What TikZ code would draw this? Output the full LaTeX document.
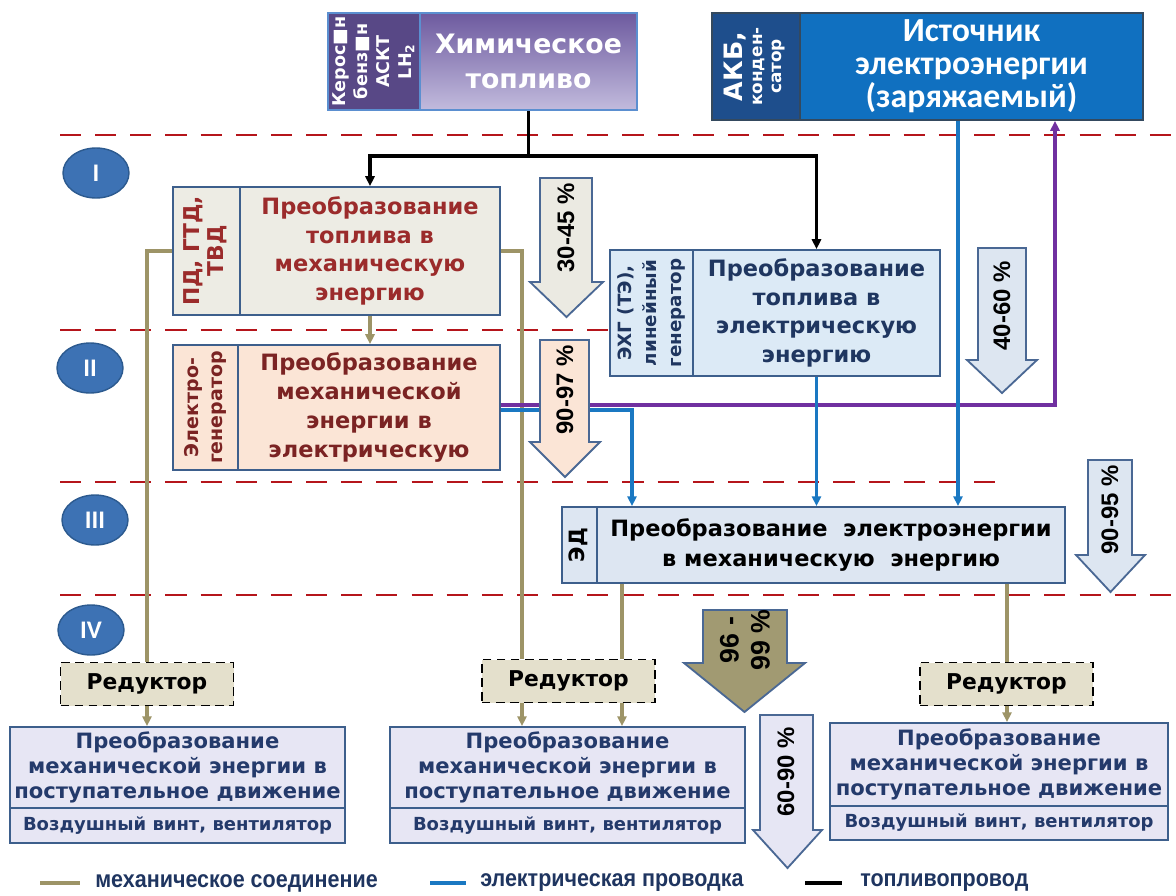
\documentclass[tikz,border=0pt]{standalone}
\usepackage{fontspec}
\setmainfont{DejaVu Sans}
\newfontfamily\calfont{Carlito}
\newfontfamily\arialfont{Liberation Sans}
\usetikzlibrary{arrows.meta,shapes.geometric}

\definecolor{boxline}{HTML}{3D5F8C}
\definecolor{pdfill}{HTML}{EDECE4}
\definecolor{pdtext}{HTML}{9B2B2B}
\definecolor{genfill}{HTML}{FBE5D6}
\definecolor{gentext}{HTML}{7B2323}
\definecolor{fcfill}{HTML}{DCEAF6}
\definecolor{fctext}{HTML}{1F3660}
\definecolor{edfill}{HTML}{DDE6F2}
\definecolor{propfill}{HTML}{E7E6F4}
\definecolor{proptext}{HTML}{243A6B}
\definecolor{redfill}{HTML}{E4E0CC}
\definecolor{fuelsidefill}{HTML}{584886}
\definecolor{fueltop}{HTML}{6D5A9F}
\definecolor{fuelbot}{HTML}{C2BBDD}
\definecolor{fuelline}{HTML}{5B8FD0}
\definecolor{accfill}{HTML}{1E4E8C}
\definecolor{srcfill}{HTML}{1070C0}
\definecolor{srcline}{HTML}{34495E}
\definecolor{stagefill}{HTML}{3D72B4}
\definecolor{stageline}{HTML}{2C5A8F}
\definecolor{levelred}{HTML}{B5151B}
\definecolor{mechcol}{HTML}{9D9467}
\definecolor{eleccol}{HTML}{1A78C2}
\definecolor{chargecol}{HTML}{7030A0}
\definecolor{arrowline}{HTML}{4A6894}
\definecolor{effgrey}{HTML}{EBEAE2}
\definecolor{effblue}{HTML}{DDE6F1}
\definecolor{effolive}{HTML}{A19A72}
\definecolor{efflilac}{HTML}{E6E6F4}
\definecolor{legtext}{HTML}{1F3560}

\newcommand{\px}{0.025cm}
\newcommand{\fs}[2]{\fontsize{#1}{#2}\selectfont}
\newcommand{\sidetext}[1]{\rotatebox{90}{\begin{tabular}{@{}c@{}}#1\end{tabular}}}
\newcommand{\narrow}[1]{\scalebox{0.9}[1]{#1}}

\begin{document}
\begin{tikzpicture}[x=0.025cm, y=-0.025cm,
  box/.style={draw=boxline, line width=1.3pt, inner sep=0pt, align=center},
  redbox/.style={draw=black, dash pattern=on 6pt off 4pt, line width=1.4pt, fill=redfill,
    inner sep=0pt, minimum width=173*\px, minimum height=43*\px, font=\bfseries\fs{15.5}{18}},
  stage/.style={ellipse, draw=stageline, line width=1pt, fill=stagefill, inner sep=0pt,
    minimum width=66*\px, minimum height=50*\px, text=white, font=\calfont\bfseries\fs{18}{20}},
  level/.style={draw=levelred, line width=1.8pt, dash pattern=on 15pt off 10pt},
  mech/.style={draw=mechcol, line width=2.4pt},
  elec/.style={draw=eleccol, line width=2.4pt},
  fuelp/.style={draw=black, line width=2.4pt},
  charge/.style={draw=chargecol, line width=2.4pt},
  arr/.style={-{Triangle[length=7pt,width=6.5pt]}},
  effarrow/.style={draw=arrowline, line width=1.3pt, line join=miter},
  efftext/.style={rotate=90, align=center, font=\arialfont\bfseries\fs{17}{22}},
  legend/.style={anchor=west, inner sep=0pt, text=legtext, font=\arialfont\bfseries\fs{17}{20}}]
  \useasboundingbox (0,0) rectangle (1176,895);

  % levels
  \draw[level] (60,135) -- (1176,135);
  \draw[level] (60,330) -- (612,330);
  \draw[level] (60,482) -- (1008,482);
  \draw[level] (60,595) -- (1176,595);
  \node[stage] (st1) at (96,173) {I};
  \node[stage] (st2) at (90,368) {II};
  \node[stage] (st3) at (95,520) {III};
  \node[stage] (st4) at (91,630) {IV};

  % sources
  \node[box, draw=fuelline, line width=1.5pt, fill=fuelsidefill, minimum width=92*\px, minimum height=97*\px,
    text=white, font=\bfseries\fs{12.5}{15.5}] (fuelside) at (374,61.5)
    {\sidetext{Керос■н\\бенз■н\\АСКТ\\LH\textsubscript{2}}};
  \node[box, draw=fuelline, line width=1.5pt, top color=fueltop, bottom color=fuelbot,
    minimum width=217*\px, minimum height=97*\px, text=white, font=\bfseries\fs{19}{25}] (fuel) at (528.5,61.5)
    {Химическое\\топливо};
  \node[box, draw=srcline, fill=accfill, minimum width=88*\px, minimum height=107*\px,
    text=white, font=\bfseries\fs{12}{14}] (accside) at (756,66.5)
    {\sidetext{{\fs{18}{19}АКБ,}\\конден-\\сатор}};
  \node[box, draw=srcline, fill=srcfill, minimum width=343*\px, minimum height=107*\px,
    text=white, font=\calfont\bfseries\fs{24}{23.5}] (source) at (971.5,66.5)
    {Источник\\электроэнергии\\(заряжаемый)};

  % converters
  \node[box, fill=pdfill, minimum width=67*\px, minimum height=128*\px, text=pdtext,
    font=\bfseries\fs{15.5}{17.5}] (engside) at (206.5,251) {\sidetext{ПД, ГТД,\\ТВД}};
  \node[box, fill=pdfill, minimum width=260*\px, minimum height=128*\px, text=pdtext,
    font=\bfseries\fs{16}{20.5}] (fuelmech) at (370,251)
    {Преобразование\\топлива в\\механическую\\энергию};
  \node[box, fill=genfill, minimum width=65*\px, minimum height=125*\px, text=gentext,
    font=\bfseries\fs{13.5}{17}] (genside) at (205.5,407.5) {\sidetext{Электро-\\генератор}};
  \node[box, fill=genfill, minimum width=262*\px, minimum height=125*\px, text=gentext,
    font=\bfseries\fs{16}{20.5}] (mechel) at (369,407.5)
    {Преобразование\\механической\\энергии в\\электрическую};
  \node[box, fill=fcfill, minimum width=83*\px, minimum height=126*\px, text=fctext,
    font=\bfseries\fs{13}{18}] (fcside) at (651.5,313) {\sidetext{ЭХГ (ТЭ),\\линейный\\генератор}};
  \node[box, fill=fcfill, minimum width=247*\px, minimum height=126*\px, text=fctext,
    font=\bfseries\fs{16}{20.5}] (fuelel) at (816.5,313)
    {Преобразование\\топлива в\\электрическую\\энергию};
  \node[box, fill=edfill, minimum width=35*\px, minimum height=76*\px,
    font=\bfseries\fs{15}{17}] (motside) at (579.5,545) {\sidetext{ЭД}};
  \node[box, fill=edfill, minimum width=468*\px, minimum height=76*\px,
    font=\bfseries\fs{16}{21}] (elmech) at (831,545)
    {Преобразование\ \ электроэнергии\\в механическую\ \ энергию};

  % propulsors
  \node[redbox] (redl) at (147,684) {Редуктор};
  \node[redbox] (redm) at (568.5,681) {Редуктор};
  \node[redbox] (redr) at (1006.5,684) {Редуктор};
  \node[box, fill=propfill, minimum width=335*\px, minimum height=81*\px, text=proptext,
    font=\bfseries\fs{15}{17.5}] (propl) at (177.5,767.5)
    {Преобразование\\механической энергии в\\поступательное движение};
  \node[box, fill=propfill, minimum width=335*\px, minimum height=35*\px, text=proptext,
    font=\bfseries\fs{12.8}{15}] (fanl) at (177.5,825.5) {Воздушный винт, вентилятор};
  \node[box, fill=propfill, minimum width=355*\px, minimum height=81*\px, text=proptext,
    font=\bfseries\fs{15}{17.5}] (propm) at (567.5,767.5)
    {Преобразование\\механической энергии в\\поступательное движение};
  \node[box, fill=propfill, minimum width=355*\px, minimum height=35*\px, text=proptext,
    font=\bfseries\fs{12.8}{15}] (fanm) at (567.5,825.5) {Воздушный винт, вентилятор};
  \node[box, fill=propfill, minimum width=338*\px, minimum height=83*\px, text=proptext,
    font=\bfseries\fs{15}{17.5}] (propr) at (999,764.5)
    {Преобразование\\механической энергии в\\поступательное движение};
  \node[box, fill=propfill, minimum width=338*\px, minimum height=34*\px, text=proptext,
    font=\bfseries\fs{12.8}{15}] (fanr) at (999,823) {Воздушный винт, вентилятор};

  % connections
  \coordinate (fork) at ([yshift=-45*\px]fuel.south);
  \coordinate (shaftl) at (147,0);
  \coordinate (shaftc) at (522,0);
  \coordinate (shaftm) at (622,0);
  \coordinate (shaftr) at (1007,0);
  \coordinate (busgen) at (632,0);
  \coordinate (busacc) at (958,0);
  \coordinate (buschg) at (1055,0);
  \draw[fuelp] (fuel.south) -- (fork);
  \draw[fuelp, arr] (fork) -| (fuelmech.north);
  \draw[fuelp, arr] (fork) -| (fuelel.north);
  \draw[mech] (engside.west) -| (shaftl |- redl.north);
  \draw[mech, arr] (redl.south -| shaftl) -- (propl.north -| shaftl);
  \draw[mech] (fuelmech.east) -| (shaftc |- redm.north);
  \draw[mech, arr] (redm.south -| shaftc) -- (propm.north -| shaftc);
  \draw[mech] (elmech.south -| shaftm) -- (redm.north -| shaftm);
  \draw[mech, arr] (redm.south -| shaftm) -- (propm.north -| shaftm);
  \draw[mech] (elmech.south -| shaftr) -- (redr.north -| shaftr);
  \draw[mech, arr] (redr.south -| shaftr) -- (propr.north -| shaftr);
  \draw[mech, arr] (fuelmech.south) -- (fuelmech.south |- mechel.north);
  \draw[elec, arr] ([yshift=-2.5*\px]mechel.east) -| (busgen |- elmech.north);
  \draw[charge, arr] ([yshift=2.5*\px]mechel.east) -| (buschg |- source.south);
  \draw[elec, arr] (fuelel.south) -- (fuelel.south |- elmech.north);
  \draw[elec, arr] (busacc |- source.south) -- (busacc |- elmech.north);

  % efficiencies
  \filldraw[effarrow, fill=effgrey] (540,178) -- (592,178) -- (592,282) -- (603,282)
    -- (566.5,317) -- (530,282) -- (540,282) -- cycle;
  \node[efftext] (eff1) at (566,228) {30-45 \%};
  \filldraw[effarrow, fill=genfill] (540,340) -- (589,340) -- (589,442) -- (600,442)
    -- (565,477) -- (530,442) -- (540,442) -- cycle;
  \node[efftext] (eff2) at (565,390) {90-97 \%};
  \filldraw[effarrow, fill=effblue] (978,248) -- (1026,248) -- (1026,360) -- (1037,360)
    -- (1002,393) -- (967,360) -- (978,360) -- cycle;
  \node[efftext] (eff3) at (1002,306) {40-60 \%};
  \filldraw[effarrow, fill=effblue] (1088,460) -- (1132,460) -- (1132,555) -- (1145,555)
    -- (1110.5,592) -- (1076,555) -- (1088,555) -- cycle;
  \node[efftext] (eff4) at (1110,510) {90-95 \%};
  \filldraw[effarrow, fill=effolive] (703,610) -- (787,610) -- (787,663) -- (805,663)
    -- (744.5,712) -- (684,663) -- (703,663) -- cycle;
  \node[efftext, font=\arialfont\bfseries\fs{19}{22}] (eff5) at (745,640) {96 -\\99 \%};
  \filldraw[effarrow, fill=efflilac] (760,715) -- (813,715) -- (813,830) -- (822,830)
    -- (787.5,868) -- (753,830) -- (760,830) -- cycle;
  \node[efftext] (eff6) at (786,772) {60-90 \%};

  % legend
  \node[legend] (legmech) at (95,883) {\narrow{механическое соединение}};
  \node[legend] (legelec) at (480,883) {\narrow{электрическая проводка}};
  \node[legend] (legfuel) at (860,883) {\narrow{топливопровод}};
  \draw[mechcol, line width=3.5pt] ([xshift=-55*\px]legmech.west) -- ([xshift=-15*\px]legmech.west);
  \draw[eleccol, line width=3.5pt] ([xshift=-50*\px]legelec.west) -- ([xshift=-14*\px]legelec.west);
  \draw[black, line width=3.5pt] ([xshift=-55*\px]legfuel.west) -- ([xshift=-18*\px]legfuel.west);
\end{tikzpicture}
\end{document}
